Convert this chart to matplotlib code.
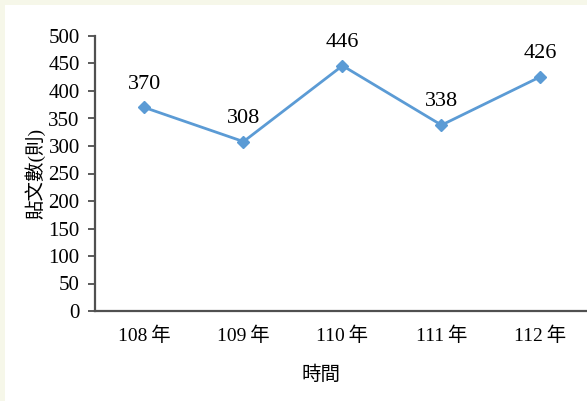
import matplotlib.pyplot as plt
from matplotlib.patches import Rectangle

# data
years = ['108年', '109年', '110年', '111年', '112年']
posts = [370, 308, 446, 338, 426]
yticks = [0, 50, 100, 150, 200, 250, 300, 350, 400, 450, 500]

W, H = 587, 401
fig = plt.figure(figsize=(W / 100, H / 100), dpi=100)
fig.patch.set_facecolor('#f6f7e9')
fig.patches.append(Rectangle((5 / W, 0), 1, 1 - 5 / H, transform=fig.transFigure,
                             facecolor='white', edgecolor='none', zorder=-10))

# axes: y axis at x=95, 0 at y=311, 500 at y=36, category step ~99px
ax = fig.add_axes([95 / W, (H - 311) / H, 495 / W, 275 / H])
ax.set_facecolor('none')

serif = ['Liberation Serif', 'Noto Sans CJK TC']

x = list(range(len(years)))
ax.plot(x, posts, color='#5b9bd5', linewidth=2, marker='D', markersize=6,
        clip_on=False)
for xi, v in zip(x, posts):
    ax.annotate(str(v), (xi, v), xytext=(0, 10), textcoords='offset points',
                ha='center', va='bottom', fontsize=16, family=serif)

ax.set_xlim(-0.5, 4.5)
ax.set_ylim(0, 500)
ax.set_yticks(yticks)
ax.set_yticklabels([str(t) for t in yticks], family=serif, fontsize=15)
ax.set_xticks(x)
ax.set_xticklabels([y[:-1] + '\u2009' + y[-1] for y in years], family=serif, fontsize=14)
ax.tick_params(axis='x', length=0, pad=11)
ax.tick_params(axis='y', length=5, width=1.2, color='#404040', pad=6)

for s in ['top', 'right']:
    ax.spines[s].set_visible(False)
for s in ['left', 'bottom']:
    ax.spines[s].set_color('#505050')
    ax.spines[s].set_linewidth(1.6)

ax.set_ylabel('貼文數(則)', family=serif, fontsize=14)
ax.yaxis.set_label_coords(-0.10, 0.5)
ax.set_xlabel('時間', family=serif, fontsize=14)
ax.xaxis.set_label_coords(0.457, -0.20)

fig.savefig('out.png', dpi=100)
